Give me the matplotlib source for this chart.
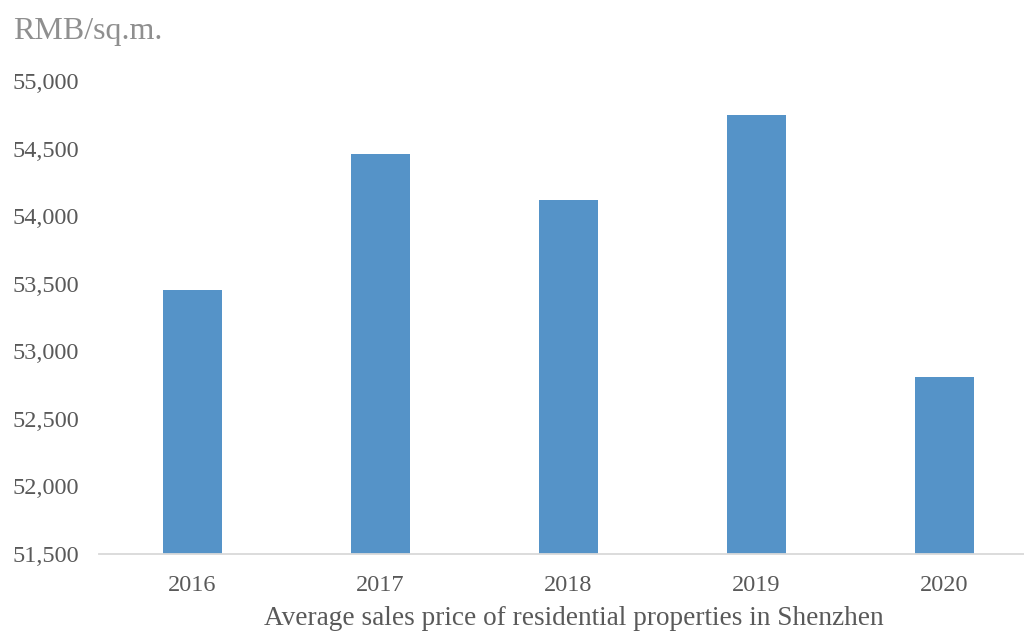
import matplotlib.pyplot as plt
from matplotlib.ticker import FuncFormatter

years = ["2016", "2017", "2018", "2019", "2020"]
prices = [53450, 54460, 54120, 54750, 52810]

plt.rcParams["font.family"] = ["Liberation Serif", "DejaVu Serif"]

fig = plt.figure(figsize=(10.24, 6.32), dpi=100)
W, H = 1024, 632
# axes spans a bit past the right edge, like the cropped original
ax = fig.add_axes([98.5 / W, (H - 554) / H, 940 / W, (554 - 81) / H])

ax.bar(range(len(years)), prices, width=0.314, color="#5593c8", zorder=2)
ax.set_xlim(-0.5, len(years) - 0.5)
ax.set_ylim(51500, 55000)
ax.set_yticks(range(51500, 55001, 500))
ax.yaxis.set_major_formatter(FuncFormatter(lambda v, p: f"{int(v):,}"))
ax.set_xticks(range(len(years)))
ax.set_xticklabels(years)

for s in ["top", "right", "left"]:
    ax.spines[s].set_visible(False)
ax.spines["bottom"].set_color("#d9d9d9")
ax.spines["bottom"].set_linewidth(1.3)
ax.tick_params(axis="both", length=0, labelsize=17.5, colors="#595959")
ax.tick_params(axis="y", pad=14)
ax.tick_params(axis="x", pad=15)

fig.text(13 / W, 1 - 31 / H, "RMB/sq.m.", fontsize=23, color="#8f8f8f",
         ha="left", va="center")
fig.text(574 / W, 1 - 625 / H, "Average sales price of residential properties in Shenzhen",
         fontsize=19.6, color="#595959", ha="center", va="baseline")

fig.savefig("out.png", dpi=100)
